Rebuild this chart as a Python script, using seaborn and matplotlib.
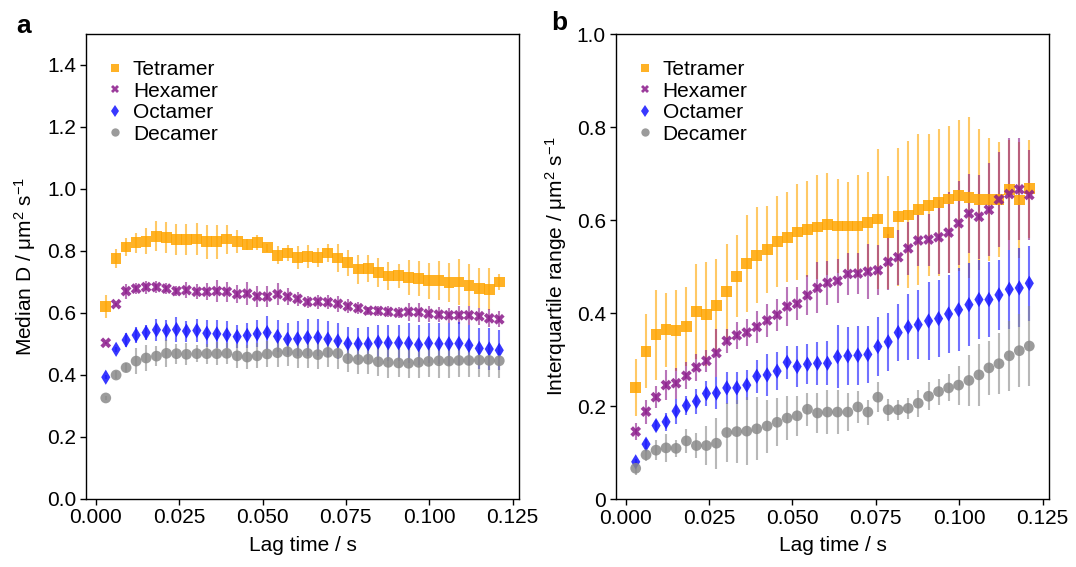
import numpy as np
import pandas as pd
import matplotlib
matplotlib.use("Agg")
import matplotlib.pyplot as plt
import seaborn as sns

# ---------------- data ----------------
lag_time = [0.0030, 0.0061, 0.0091, 0.0121, 0.0151, 0.0182, 0.0212, 0.0242, 0.0272, 0.0303,
            0.0333, 0.0363, 0.0393, 0.0424, 0.0454, 0.0484, 0.0514, 0.0545, 0.0575, 0.0605,
            0.0635, 0.0666, 0.0696, 0.0726, 0.0756, 0.0787, 0.0817, 0.0847, 0.0877, 0.0908,
            0.0938, 0.0968, 0.0998, 0.1029, 0.1059, 0.1089, 0.1119, 0.1150, 0.1180, 0.1210]

species = ["Tetramer", "Hexamer", "Octamer", "Decamer"]

# Panel a: median D
med_tetramer = [0.621, 0.775, 0.812, 0.826, 0.831, 0.847, 0.843, 0.836, 0.836, 0.838,
                0.829, 0.829, 0.838, 0.829, 0.820, 0.827, 0.810, 0.786, 0.793, 0.778,
                0.782, 0.778, 0.793, 0.777, 0.762, 0.741, 0.743, 0.729, 0.719, 0.720,
                0.715, 0.710, 0.703, 0.704, 0.698, 0.699, 0.689, 0.679, 0.676, 0.699]
med_tetramer_err = [0.037, 0.032, 0.028, 0.033, 0.042, 0.049, 0.051, 0.051, 0.050, 0.053,
                    0.054, 0.055, 0.047, 0.037, 0.017, 0.024, 0.013, 0.028, 0.027, 0.038,
                    0.037, 0.030, 0.030, 0.046, 0.042, 0.047, 0.045, 0.047, 0.045, 0.039,
                    0.056, 0.056, 0.058, 0.062, 0.062, 0.075, 0.068, 0.065, 0.068, 0.025]
med_hexamer = [0.503, 0.628, 0.670, 0.678, 0.683, 0.683, 0.678, 0.670, 0.673, 0.668,
               0.668, 0.670, 0.668, 0.660, 0.662, 0.653, 0.652, 0.660, 0.652, 0.645,
               0.635, 0.636, 0.634, 0.629, 0.621, 0.615, 0.607, 0.606, 0.603, 0.600,
               0.603, 0.602, 0.597, 0.594, 0.592, 0.592, 0.592, 0.589, 0.582, 0.579]
med_hexamer_err = [0.004, 0.005, 0.024, 0.018, 0.021, 0.019, 0.017, 0.017, 0.026, 0.025,
                   0.028, 0.036, 0.032, 0.029, 0.036, 0.035, 0.033, 0.035, 0.027, 0.023,
                   0.019, 0.023, 0.023, 0.025, 0.023, 0.019, 0.013, 0.015, 0.018, 0.018,
                   0.030, 0.031, 0.026, 0.024, 0.025, 0.029, 0.030, 0.028, 0.029, 0.026]
med_octamer = [0.392, 0.482, 0.512, 0.528, 0.536, 0.545, 0.543, 0.546, 0.541, 0.543,
               0.534, 0.532, 0.529, 0.523, 0.527, 0.532, 0.536, 0.524, 0.515, 0.516,
               0.520, 0.521, 0.515, 0.509, 0.501, 0.500, 0.500, 0.505, 0.503, 0.503,
               0.502, 0.497, 0.502, 0.500, 0.500, 0.501, 0.495, 0.485, 0.483, 0.479]
med_octamer_err = [0.006, 0.009, 0.023, 0.025, 0.025, 0.036, 0.035, 0.040, 0.034, 0.038,
                   0.043, 0.045, 0.044, 0.037, 0.040, 0.044, 0.054, 0.052, 0.052, 0.057,
                   0.059, 0.059, 0.059, 0.059, 0.053, 0.051, 0.054, 0.056, 0.058, 0.058,
                   0.065, 0.064, 0.065, 0.066, 0.067, 0.070, 0.065, 0.065, 0.067, 0.064]
med_decamer = [0.325, 0.399, 0.423, 0.444, 0.454, 0.460, 0.469, 0.468, 0.466, 0.468,
               0.468, 0.468, 0.469, 0.461, 0.457, 0.461, 0.467, 0.471, 0.474, 0.469,
               0.469, 0.465, 0.472, 0.469, 0.452, 0.449, 0.450, 0.442, 0.440, 0.438,
               0.437, 0.440, 0.443, 0.445, 0.444, 0.446, 0.446, 0.447, 0.446, 0.445]
med_decamer_err = [0.006, 0.013, 0.015, 0.041, 0.041, 0.032, 0.043, 0.032, 0.035, 0.028,
                   0.032, 0.038, 0.034, 0.038, 0.038, 0.040, 0.043, 0.046, 0.046, 0.046,
                   0.046, 0.046, 0.046, 0.049, 0.043, 0.047, 0.047, 0.046, 0.049, 0.046,
                   0.046, 0.049, 0.051, 0.054, 0.054, 0.054, 0.054, 0.054, 0.054, 0.054]

# Panel b: interquartile range
iqr_tetramer = [0.240, 0.318, 0.353, 0.364, 0.363, 0.371, 0.403, 0.397, 0.416, 0.447,
                0.479, 0.506, 0.524, 0.537, 0.554, 0.563, 0.574, 0.580, 0.585, 0.591,
                0.587, 0.587, 0.587, 0.595, 0.602, 0.573, 0.607, 0.611, 0.623, 0.632,
                0.638, 0.645, 0.653, 0.649, 0.644, 0.644, 0.644, 0.665, 0.643, 0.667]
iqr_tetramer_err = [0.061, 0.080, 0.097, 0.080, 0.087, 0.085, 0.102, 0.112, 0.100, 0.102,
                    0.088, 0.104, 0.103, 0.093, 0.097, 0.097, 0.103, 0.103, 0.112, 0.110,
                    0.101, 0.095, 0.109, 0.109, 0.150, 0.122, 0.148, 0.158, 0.163, 0.153,
                    0.158, 0.158, 0.162, 0.173, 0.151, 0.133, 0.123, 0.108, 0.125, 0.105]
iqr_hexamer = [0.145, 0.188, 0.219, 0.245, 0.249, 0.265, 0.283, 0.297, 0.314, 0.340,
               0.352, 0.358, 0.370, 0.384, 0.396, 0.414, 0.420, 0.438, 0.454, 0.465,
               0.469, 0.484, 0.485, 0.489, 0.492, 0.510, 0.520, 0.539, 0.556, 0.558,
               0.563, 0.573, 0.593, 0.614, 0.607, 0.622, 0.644, 0.656, 0.666, 0.654]
iqr_hexamer_err = [0.019, 0.026, 0.023, 0.033, 0.033, 0.029, 0.029, 0.023, 0.052, 0.025,
                   0.029, 0.029, 0.035, 0.036, 0.034, 0.042, 0.036, 0.043, 0.055, 0.047,
                   0.047, 0.046, 0.044, 0.059, 0.054, 0.060, 0.059, 0.057, 0.055, 0.056,
                   0.080, 0.088, 0.090, 0.085, 0.090, 0.100, 0.103, 0.120, 0.110, 0.096]
iqr_octamer = [0.080, 0.118, 0.158, 0.166, 0.189, 0.201, 0.210, 0.227, 0.228, 0.239,
               0.239, 0.245, 0.264, 0.267, 0.275, 0.294, 0.285, 0.290, 0.292, 0.292,
               0.306, 0.308, 0.309, 0.311, 0.328, 0.338, 0.358, 0.370, 0.375, 0.383,
               0.388, 0.398, 0.407, 0.418, 0.429, 0.429, 0.439, 0.451, 0.454, 0.464]
iqr_octamer_err = [0.007, 0.010, 0.011, 0.020, 0.027, 0.020, 0.027, 0.026, 0.034, 0.034,
                   0.035, 0.032, 0.035, 0.045, 0.041, 0.035, 0.044, 0.043, 0.046, 0.047,
                   0.068, 0.063, 0.063, 0.061, 0.063, 0.062, 0.062, 0.071, 0.074, 0.084,
                   0.082, 0.083, 0.089, 0.090, 0.085, 0.081, 0.076, 0.085, 0.085, 0.081]
iqr_decamer = [0.066, 0.095, 0.105, 0.110, 0.109, 0.125, 0.115, 0.115, 0.120, 0.143,
               0.145, 0.146, 0.151, 0.157, 0.165, 0.174, 0.179, 0.193, 0.185, 0.187,
               0.187, 0.187, 0.198, 0.187, 0.219, 0.192, 0.192, 0.195, 0.206, 0.221,
               0.231, 0.239, 0.245, 0.255, 0.267, 0.282, 0.291, 0.308, 0.319, 0.329]
iqr_decamer_err = [0.014, 0.014, 0.022, 0.030, 0.018, 0.026, 0.027, 0.041, 0.055, 0.063,
                   0.068, 0.073, 0.068, 0.057, 0.052, 0.047, 0.043, 0.036, 0.043, 0.047,
                   0.047, 0.041, 0.034, 0.027, 0.032, 0.024, 0.022, 0.022, 0.029, 0.030,
                   0.028, 0.029, 0.042, 0.054, 0.066, 0.058, 0.066, 0.075, 0.079, 0.087]

median_values = [med_tetramer, med_hexamer, med_octamer, med_decamer]
median_errors = [med_tetramer_err, med_hexamer_err, med_octamer_err, med_decamer_err]
iqr_values = [iqr_tetramer, iqr_hexamer, iqr_octamer, iqr_decamer]
iqr_errors = [iqr_tetramer_err, iqr_hexamer_err, iqr_octamer_err, iqr_decamer_err]

x_ticks = [0.000, 0.025, 0.050, 0.075, 0.100, 0.125]
x_tick_labels = ["0.000", "0.025", "0.050", "0.075", "0.100", "0.125"]
a_y_ticks = [0.0, 0.2, 0.4, 0.6, 0.8, 1.0, 1.2, 1.4]
a_y_tick_labels = ["0.0", "0.2", "0.4", "0.6", "0.8", "1.0", "1.2", "1.4"]
b_y_ticks = [0.0, 0.2, 0.4, 0.6, 0.8, 1.0]
b_y_tick_labels = ["0", "0.2", "0.4", "0.6", "0.8", "1.0"]

# ---------------- style ----------------
palette = {"Tetramer": "#FFA500", "Hexamer": "#8B1A8B", "Octamer": "#1515FF", "Decamer": "#8A8A8A"}
markers = {"Tetramer": "s", "Hexamer": "X", "Octamer": "d", "Decamer": "o"}

sns.set_theme(style="ticks")
plt.rcParams["font.family"] = ["Liberation Sans", "DejaVu Sans"]
plt.rcParams["mathtext.default"] = "regular"
plt.rcParams["axes.linewidth"] = 1.0
plt.rcParams["axes.edgecolor"] = "black"
plt.rcParams["axes.labelcolor"] = "black"
plt.rcParams["text.color"] = "black"
plt.rcParams["xtick.color"] = "black"
plt.rcParams["ytick.color"] = "black"
plt.rcParams["xtick.labelcolor"] = "black"
plt.rcParams["ytick.labelcolor"] = "black"


def long_frame(values):
    rows = []
    for sp, vals in zip(species, values):
        for t, v in zip(lag_time, vals):
            rows.append({"lag": t, "value": v, "species": sp})
    return pd.DataFrame(rows)


fig = plt.figure(figsize=(10.76, 5.67), dpi=100)
ax_a = fig.add_axes([0.0797, 0.1206, 0.4029, 0.8194])
ax_b = fig.add_axes([0.5722, 0.1199, 0.4030, 0.8201])


def draw(ax, values, errors, ylim, yticks, yticklabels, ylabel):
    for sp, vals, errs in zip(species, values, errors):
        ax.errorbar(lag_time, vals, yerr=errs, fmt="none", ecolor=palette[sp],
                    elinewidth=1.5, alpha=0.6, capsize=0, zorder=1)
    df = long_frame(values)
    sns.scatterplot(data=df, x="lag", y="value", hue="species", style="species",
                    palette=palette, markers=markers, hue_order=species, style_order=species,
                    s=60, alpha=0.85, linewidth=0, ax=ax, zorder=3, legend=True)
    ax.set_xlim(-0.003, 0.127)
    ax.set_ylim(*ylim)
    ax.set_xticks(x_ticks)
    ax.set_xticklabels(x_tick_labels)
    ax.set_yticks(yticks)
    ax.set_yticklabels(yticklabels)
    ax.tick_params(axis="both", labelsize=15, length=4, width=1.0, direction="out",
                   pad=3, top=False, right=False, colors="black")
    ax.set_xlabel("Lag time / s", fontsize=15, labelpad=6, color="black")
    ax.set_ylabel(ylabel, fontsize=15, labelpad=6, color="black")
    for sp in ax.spines.values():
        sp.set_visible(True)
        sp.set_color("black")
    handles, labels = ax.get_legend_handles_labels()
    for h in handles:
        try:
            h.set_markersize(6)
            h.set_alpha(0.85)
        except Exception:
            pass
    leg = ax.legend(handles, labels, loc="upper left", bbox_to_anchor=(0.01, 0.975),
                    frameon=False, fontsize=15, handlelength=1.0, handletextpad=0.35,
                    labelspacing=0.12, borderaxespad=0.3)
    for t in leg.get_texts():
        t.set_color("black")


draw(ax_a, median_values, median_errors, (0, 1.5), a_y_ticks, a_y_tick_labels,
     r"Median D / μm$^{2}$ s$^{-1}$")
draw(ax_b, iqr_values, iqr_errors, (0, 1.0), b_y_ticks, b_y_tick_labels,
     r"Interquartile range / μm$^{2}$ s$^{-1}$")

fig.text(0.022, 0.955, "a", fontsize=19, fontweight="bold", ha="center", va="center")
fig.text(0.520, 0.960, "b", fontsize=19, fontweight="bold", ha="center", va="center")

fig.savefig("out.png", dpi=100)
